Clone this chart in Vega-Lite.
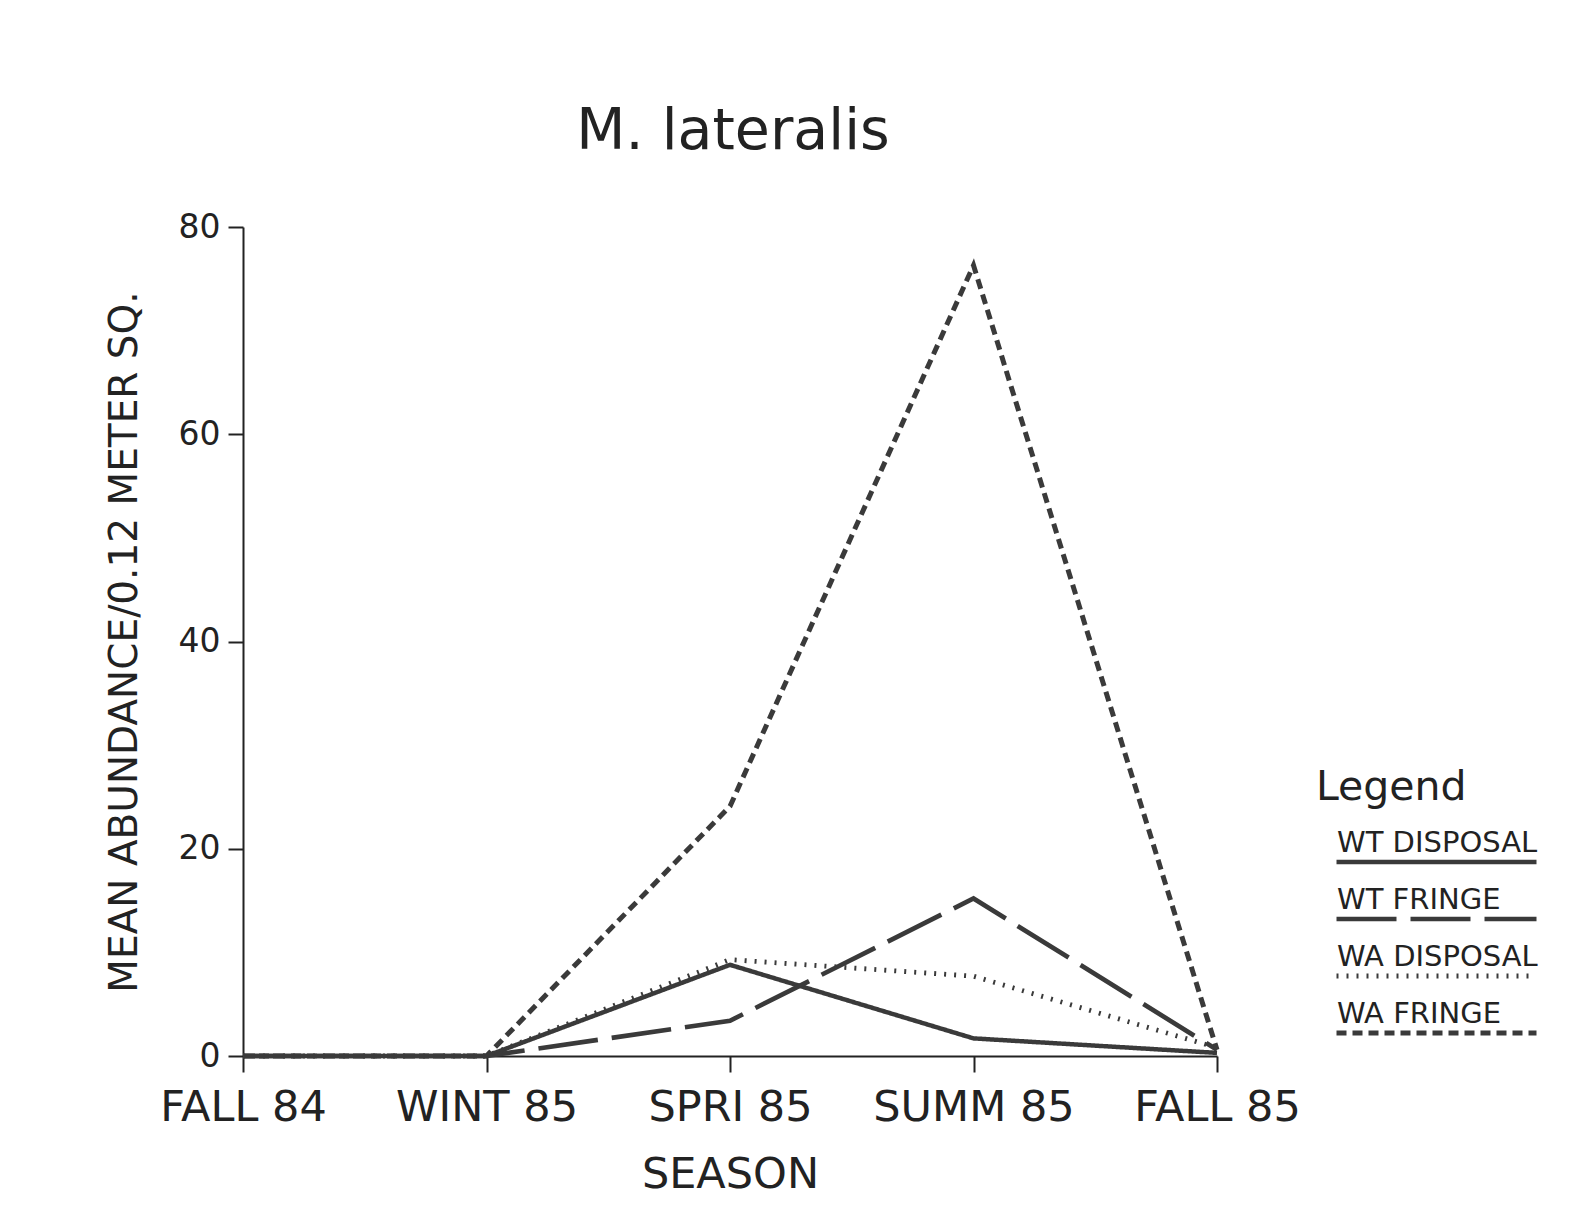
{
  "$schema": "https://vega.github.io/schema/vega-lite/v6.json",
  "width": 974,
  "height": 829,
  "autosize": {"type": "none"},
  "padding": {"left": 243, "top": 227, "right": 368, "bottom": 175},
  "background": "white",
  "title": {
    "text": "M. lateralis",
    "font": "DejaVu Sans",
    "fontSize": 57,
    "fontWeight": "normal",
    "color": "#222",
    "anchor": "middle",
    "dx": 3,
    "offset": 50
  },
  "data": {
    "values": [
      {"season": "FALL 84", "series": "WT DISPOSAL", "value": 0},
      {"season": "WINT 85", "series": "WT DISPOSAL", "value": 0},
      {"season": "SPRI 85", "series": "WT DISPOSAL", "value": 8.8},
      {"season": "SUMM 85", "series": "WT DISPOSAL", "value": 1.7},
      {"season": "FALL 85", "series": "WT DISPOSAL", "value": 0.3},
      {"season": "FALL 84", "series": "WT FRINGE", "value": 0},
      {"season": "WINT 85", "series": "WT FRINGE", "value": 0},
      {"season": "SPRI 85", "series": "WT FRINGE", "value": 3.4},
      {"season": "SUMM 85", "series": "WT FRINGE", "value": 15.2},
      {"season": "FALL 85", "series": "WT FRINGE", "value": 0.6},
      {"season": "FALL 84", "series": "WA DISPOSAL", "value": 0},
      {"season": "WINT 85", "series": "WA DISPOSAL", "value": 0},
      {"season": "SPRI 85", "series": "WA DISPOSAL", "value": 9.3},
      {"season": "SUMM 85", "series": "WA DISPOSAL", "value": 7.7},
      {"season": "FALL 85", "series": "WA DISPOSAL", "value": 0.8},
      {"season": "FALL 84", "series": "WA FRINGE", "value": 0},
      {"season": "WINT 85", "series": "WA FRINGE", "value": 0},
      {"season": "SPRI 85", "series": "WA FRINGE", "value": 24.1},
      {"season": "SUMM 85", "series": "WA FRINGE", "value": 76.3},
      {"season": "FALL 85", "series": "WA FRINGE", "value": 0.6}
    ]
  },
  "mark": {"type": "line", "color": "#3a3a3a", "clip": false},
  "encoding": {
    "x": {
      "field": "season",
      "type": "ordinal",
      "sort": ["FALL 84", "WINT 85", "SPRI 85", "SUMM 85", "FALL 85"],
      "scale": {"type": "point", "padding": 0},
      "axis": {
        "title": "SEASON",
        "labelAngle": 0,
        "labelLimit": 0,
        "labelFont": "DejaVu Sans",
        "labelFontSize": 43,
        "labelColor": "#222",
        "labelPadding": 14,
        "titleFont": "DejaVu Sans",
        "titleFontSize": 43,
        "titleFontWeight": "normal",
        "titleColor": "#222",
        "titlePadding": 24,
        "domainColor": "#222",
        "domainWidth": 2,
        "tickColor": "#222",
        "tickWidth": 2,
        "tickSize": 16,
        "grid": false
      }
    },
    "y": {
      "field": "value",
      "type": "quantitative",
      "scale": {"domain": [0, 80], "nice": false},
      "axis": {
        "title": "MEAN ABUNDANCE/0.12 METER SQ.",
        "values": [0, 20, 40, 60, 80],
        "labelFont": "DejaVu Sans",
        "labelFontSize": 33,
        "labelColor": "#222",
        "labelPadding": 8,
        "titleFont": "DejaVu Sans",
        "titleFontSize": 39,
        "titleFontWeight": "normal",
        "titleColor": "#222",
        "titlePadding": 34,
        "domainColor": "#222",
        "domainWidth": 2,
        "tickColor": "#222",
        "tickWidth": 2,
        "tickSize": 15,
        "grid": false
      }
    },
    "strokeWidth": {
      "field": "series",
      "type": "nominal",
      "scale": {
        "domain": ["WT DISPOSAL", "WT FRINGE", "WA DISPOSAL", "WA FRINGE"],
        "range": [4.5, 5, 3, 6]
      },
      "legend": null
    },
    "strokeDash": {
      "field": "series",
      "type": "nominal",
      "scale": {
        "domain": ["WT DISPOSAL", "WT FRINGE", "WA DISPOSAL", "WA FRINGE"],
        "range": [[1, 0], [60, 14], [2, 8], [10, 6]]
      },
      "legend": {
        "title": "Legend",
        "orient": "none",
        "legendX": 1073,
        "legendY": 541,
        "titleFont": "DejaVu Sans",
        "titleFontSize": 41,
        "titleFontWeight": "normal",
        "titleColor": "#222",
        "titlePadding": 7,
        "labelFont": "DejaVu Sans",
        "labelFontSize": 29,
        "labelColor": "#222",
        "labelLimit": 0,
        "labelBaseline": "alphabetic",
        "labelOffset": -202,
        "symbolOffset": 18,
        "symbolType": "stroke",
        "symbolSize": 40000,
        "symbolStrokeWidth": 4.5,
        "symbolStrokeColor": "#3a3a3a",
        "clipHeight": 57,
        "rowPadding": 0,
        "encode": {
          "labels": {"update": {"y": {"value": 36}}},
          "symbols": {"update": {"y": {"value": 46}}}
        }
      }
    }
  },
  "config": {"view": {"stroke": null}}
}
